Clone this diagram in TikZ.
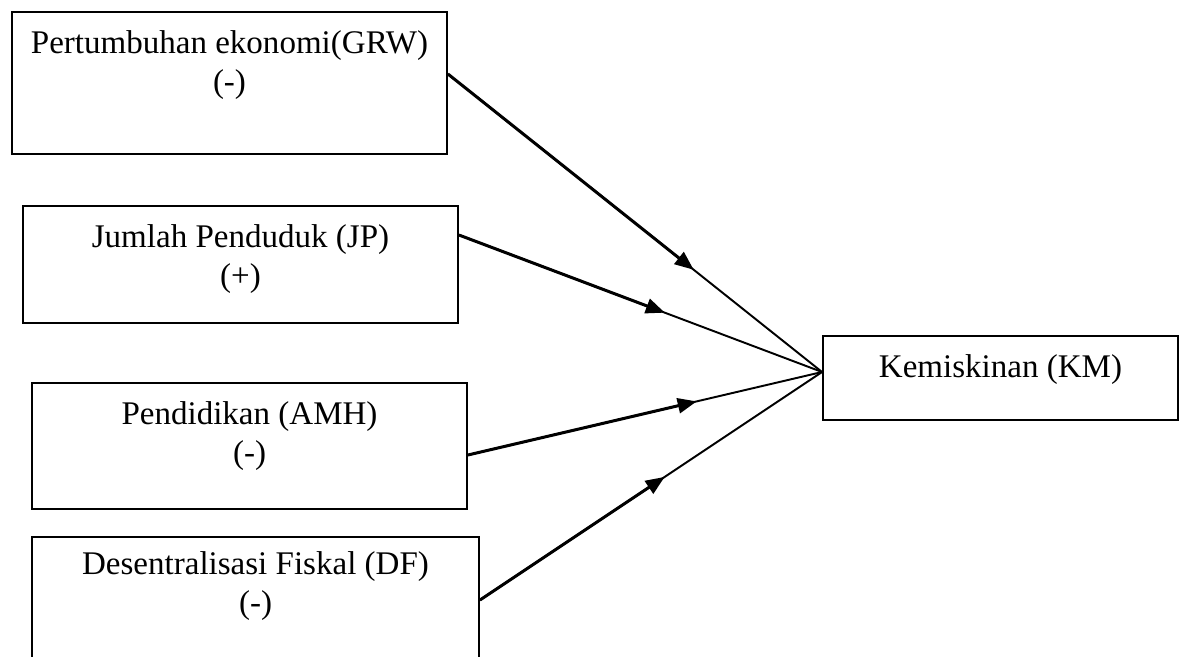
\documentclass[tikz,border=0pt]{standalone}
\usepackage{fontspec}
\setmainfont{Liberation Serif}
\usetikzlibrary{arrows.meta, positioning, calc}

\begin{document}
\begin{tikzpicture}[
  x=0.02cm, y=-0.02cm,
  varbox/.style={rectangle, draw=black, line width=1.1pt,
                 minimum width=8.7cm, inner sep=0pt},
  boxtext/.style={align=center, inner sep=0pt,
                  font=\fontsize{18.8}{22.2}\selectfont},
  arr/.style={-{Triangle[length=3.8mm,width=3mm]}, line width=1.7pt},
  link/.style={line width=1.1pt},
  node distance=0.38cm
]
\useasboundingbox (0,0) rectangle (1183,656);
\clip (0,0) rectangle (1183,656);

% Independent variables
\node[varbox, minimum height=2.84cm] (grw) at (229.5,83) {};
\node[boxtext, below=of grw.north] (grwlbl) {Pertumbuhan ekonomi(GRW)\\(-)};

\node[varbox, minimum height=2.34cm] (jp) at (240.5,264.5) {};
\node[boxtext, below=of jp.north] (jplbl) {Jumlah Penduduk (JP)\\(+)};

\node[varbox, minimum height=2.52cm] (amh) at (249.5,446) {};
\node[boxtext, below=of amh.north] (amhlbl) {Pendidikan (AMH)\\(-)};

\node[varbox, minimum width=8.94cm, minimum height=2.52cm] (df) at (255.5,600) {};
\node[boxtext, below=0.3cm of df.north] (dflbl) {Desentralisasi Fiskal (DF)\\(-)};

% Dependent variable
\node[varbox, minimum width=7.1cm, minimum height=1.68cm] (km) at (1000.5,378) {};
\node[boxtext, below=of km.north] (kmlbl) {Kemiskinan (KM)};

% Connector end points
\coordinate (hub) at ([yshift=0.12cm]km.west);
\coordinate (grwout) at ([yshift=0.18cm]grw.east);
\coordinate (jpout) at ([yshift=0.59cm]jp.east);
\coordinate (amhout) at ([yshift=-0.18cm]amh.east);
\coordinate (dfout) at (df.east);

% Thin lines into KM
\draw[link] (grwout) -- (hub);
\draw[link] (jpout) -- (hub);
\draw[link] (amhout) -- (hub);
\draw[link] (dfout) -- (hub);

% Thick arrowed parts
\draw[arr] (grwout) -- ($(grwout)!0.657!(hub)$);
\draw[arr] (jpout) -- ($(jpout)!0.567!(hub)$);
\draw[arr] (amhout) -- ($(amhout)!0.646!(hub)$);
\draw[arr] (dfout) -- ($(dfout)!0.54!(hub)$);

\end{tikzpicture}
\end{document}
